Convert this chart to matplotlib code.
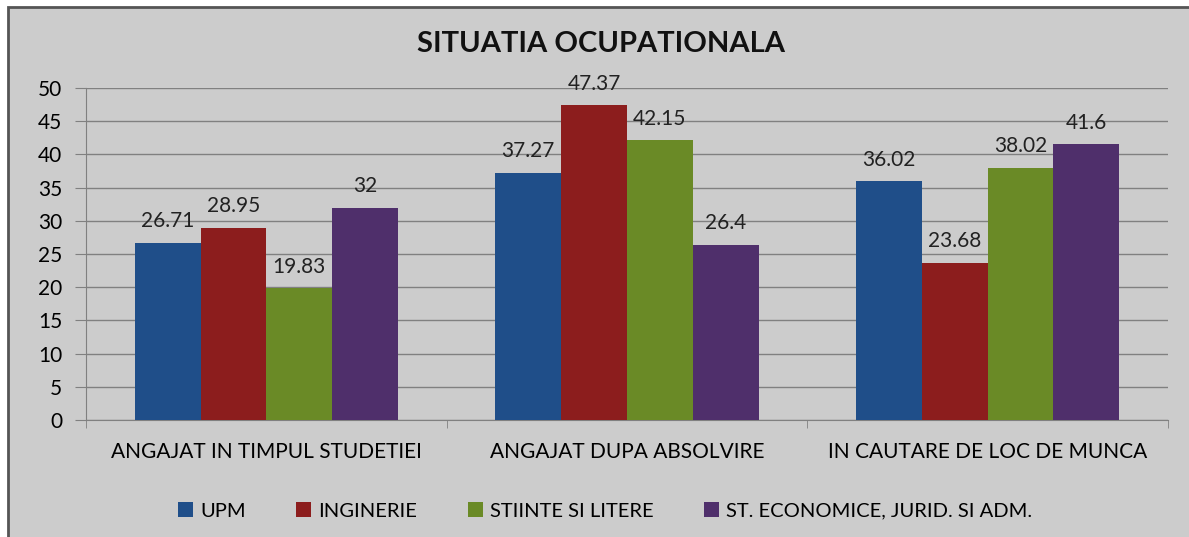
import numpy as np
import matplotlib.pyplot as plt
from matplotlib.patches import Rectangle

# data
categories = ["ANGAJAT IN TIMPUL STUDETIEI", "ANGAJAT DUPA ABSOLVIRE", "IN CAUTARE DE LOC DE MUNCA"]
series_names = ["UPM", "INGINERIE", "STIINTE SI LITERE", "ST. ECONOMICE, JURID. SI ADM."]
upm = [26.71, 37.27, 36.02]
inginerie = [28.95, 47.37, 23.68]
stiinte = [19.83, 42.15, 38.02]
economice = [32, 26.4, 41.6]
labels_upm = ["26.71", "37.27", "36.02"]
labels_ing = ["28.95", "47.37", "23.68"]
labels_sti = ["19.83", "42.15", "38.02"]
labels_eco = ["32", "26.4", "41.6"]

colors = ["#1F4E89", "#8C1D1D", "#6A8A26", "#4F2F6B"]

plt.rcParams['font.family'] = ['Lato', 'DejaVu Sans']

W, H = 1189, 537
fig = plt.figure(figsize=(W / 100, H / 100), dpi=100)
fig.patch.set_facecolor("white")

# gray chart area with border
fig.patches.append(Rectangle((8 / W, -0.05), 1.2, (H - 7) / H + 0.05, transform=fig.transFigure,
                             facecolor="#CCCCCC", edgecolor="#555555", linewidth=2, zorder=-5))

ax = fig.add_axes([86 / W, 1 - 420 / H, (1168 - 86) / W, (420 - 88) / H])
ax.patch.set_alpha(0)

all_series = [upm, inginerie, stiinte, economice]
all_labels = [labels_upm, labels_ing, labels_sti, labels_eco]
x = np.arange(len(categories))
bw = 0.73 / 4
for i, (vals, labs) in enumerate(zip(all_series, all_labels)):
    pos = x - 0.73 / 2 + bw * (i + 0.5)
    bars = ax.bar(pos, vals, width=bw, color=colors[i], label=series_names[i], zorder=3)
    for b, lab in zip(bars, labs):
        ax.text(b.get_x() + b.get_width() / 2, b.get_height() + 2.3, lab,
                ha="center", va="baseline", fontsize=15, color="#222222", zorder=4)

ax.set_xlim(-0.5, 2.5)
ax.set_ylim(0, 50)
ax.set_yticks(range(0, 51, 5))
ax.yaxis.grid(True, color="#808080", linewidth=1, zorder=1)
ax.set_axisbelow(True)

ax.set_xticks(x)
ax.set_xticklabels(categories, fontsize=15)
ax.set_xticks([-0.5, 0.5, 1.5, 2.5], minor=True)
ax.tick_params(axis="x", which="major", length=0, pad=16)
ax.tick_params(axis="x", which="minor", length=6, color="#808080", direction="out")
ax.tick_params(axis="y", labelsize=15, length=8, color="#808080", pad=9)

for s in ["top", "right"]:
    ax.spines[s].set_visible(False)
ax.spines["left"].set_color("#808080")
ax.spines["bottom"].set_color("#808080")

fig.text(601 / W, 1 - 44 / H, "SITUATIA OCUPATIONALA", ha="center", va="center",
         fontsize=21, fontweight="bold", color="#111111")

fig.legend(loc="center", bbox_to_anchor=(605 / W, 1 - 511 / H), ncol=4, frameon=False,
           fontsize=14.5, handlelength=0.75, handleheight=0.75, columnspacing=2.5, handletextpad=0.35)

fig.savefig("out.png", dpi=100, facecolor=fig.get_facecolor())
